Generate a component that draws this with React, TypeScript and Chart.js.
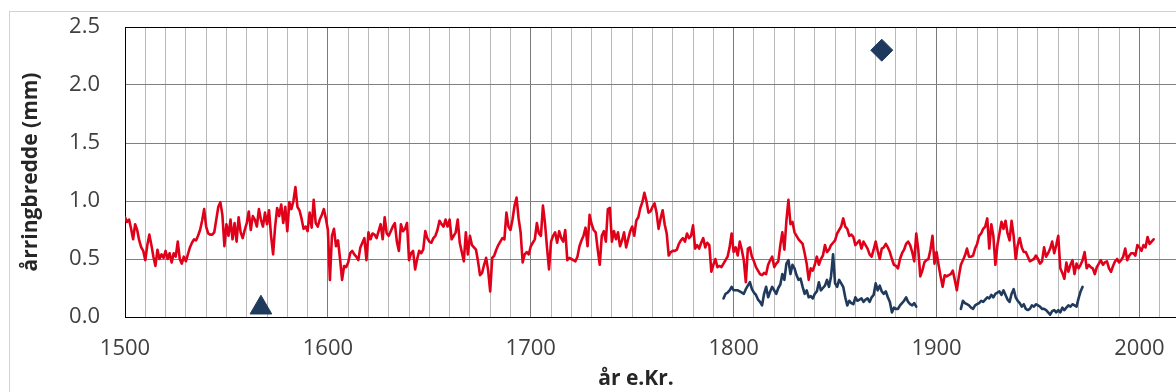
import { useEffect, useRef } from "react";
import { Chart, registerables } from "chart.js";

Chart.register(...registerables);

// Ring-width series (mm per year), one array per century
const redStart = 1500;
const red1500s = [
  0.86, 0.82, 0.84, 0.76, 0.67, 0.8, 0.75, 0.66, 0.6, 0.57,
  0.49, 0.62, 0.71, 0.62, 0.52, 0.44, 0.58, 0.5, 0.54, 0.51,
  0.57, 0.5, 0.55, 0.47, 0.55, 0.52, 0.65, 0.5, 0.46, 0.52,
  0.48, 0.54, 0.6, 0.64, 0.67, 0.66, 0.7, 0.75, 0.83, 0.93,
  0.78, 0.72, 0.71, 0.71, 0.73, 0.84, 0.95, 0.99, 0.88, 0.61,
  0.8, 0.7, 0.84, 0.67, 0.81, 0.65, 0.86, 0.73, 0.68, 0.75,
  0.81, 0.91, 0.75, 0.87, 0.84, 0.78, 0.93, 0.84, 0.78, 0.9,
  0.8, 0.92, 0.7, 0.54, 0.78, 0.94, 0.87, 0.97, 0.81, 0.95,
  0.74, 0.99, 0.93, 1.0, 1.12, 0.95, 0.92, 0.85, 0.76, 0.78,
  0.74, 0.9, 0.77, 1.01, 0.81, 0.78, 0.84, 0.88, 0.93, 0.85,
];
const red1600s = [
  0.75, 0.32, 0.7, 0.76, 0.61, 0.66, 0.5, 0.32, 0.44, 0.43,
  0.47, 0.55, 0.57, 0.54, 0.52, 0.49, 0.6, 0.64, 0.68, 0.49,
  0.73, 0.67, 0.72, 0.71, 0.68, 0.74, 0.8, 0.67, 0.86, 0.72,
  0.7, 0.74, 0.78, 0.81, 0.65, 0.57, 0.8, 0.74, 0.76, 0.81,
  0.49, 0.55, 0.57, 0.41, 0.5, 0.57, 0.55, 0.58, 0.74, 0.68,
  0.65, 0.64, 0.68, 0.7, 0.75, 0.83, 0.8, 0.78, 0.84, 0.78,
  0.84, 0.67, 0.7, 0.73, 0.84, 0.64, 0.56, 0.48, 0.73, 0.54,
  0.7, 0.62, 0.6, 0.58, 0.48, 0.36, 0.38, 0.45, 0.51, 0.4,
  0.22, 0.51, 0.53, 0.58, 0.62, 0.65, 0.68, 0.67, 0.9, 0.78,
  0.75, 0.84, 0.96, 1.03, 0.85, 0.73, 0.47, 0.54, 0.56, 0.54,
];
const red1700s = [
  0.61, 0.64, 0.67, 0.81, 0.72, 0.7, 0.96, 0.81, 0.6, 0.41,
  0.65, 0.7, 0.73, 0.64, 0.74, 0.68, 0.65, 0.75, 0.49, 0.51,
  0.5, 0.49, 0.48, 0.52, 0.61, 0.66, 0.7, 0.77, 0.61, 0.88,
  0.8, 0.75, 0.73, 0.58, 0.45, 0.7, 0.74, 0.65, 0.93, 0.94,
  0.65, 0.74, 0.67, 0.73, 0.61, 0.66, 0.73, 0.6, 0.67, 0.74,
  0.78, 0.7, 0.83, 0.86, 0.94, 0.99, 1.07, 1.0, 0.9, 0.91,
  0.95, 0.98, 0.9, 0.76, 0.85, 0.92, 0.8, 0.72, 0.53, 0.56,
  0.57, 0.57, 0.58, 0.63, 0.66, 0.68, 0.65, 0.72, 0.68, 0.7,
  0.79, 0.59, 0.62, 0.59, 0.64, 0.68, 0.6, 0.64, 0.62, 0.39,
  0.45, 0.5, 0.43, 0.44, 0.43, 0.46, 0.49, 0.52, 0.6, 0.72,
];
const red1800s = [
  0.56, 0.6, 0.53, 0.65, 0.58, 0.49, 0.3, 0.59, 0.6, 0.52,
  0.48, 0.43, 0.4, 0.37, 0.36, 0.38, 0.37, 0.45, 0.49, 0.52,
  0.43, 0.46, 0.48, 0.62, 0.73, 0.58, 0.83, 1.01, 0.8, 0.82,
  0.73, 0.7, 0.67, 0.65, 0.63, 0.55, 0.46, 0.32, 0.42, 0.4,
  0.45, 0.52, 0.45, 0.5, 0.53, 0.62, 0.56, 0.58, 0.62, 0.64,
  0.66, 0.72, 0.75, 0.78, 0.85, 0.78, 0.76, 0.7, 0.71, 0.69,
  0.62, 0.64, 0.66, 0.59, 0.65, 0.62, 0.59, 0.54, 0.52, 0.58,
  0.65, 0.57, 0.5, 0.59, 0.6, 0.63, 0.6, 0.56, 0.5, 0.45,
  0.44, 0.42, 0.5, 0.55, 0.58, 0.63, 0.65, 0.62, 0.56, 0.48,
  0.72, 0.58, 0.35, 0.4, 0.47, 0.49, 0.5, 0.58, 0.7, 0.46,
];
const red1900s = [
  0.56, 0.45, 0.35, 0.26, 0.36, 0.35, 0.36, 0.37, 0.4, 0.32,
  0.23, 0.35, 0.45, 0.49, 0.53, 0.59, 0.52, 0.52, 0.53, 0.59,
  0.63, 0.7, 0.72, 0.76, 0.78, 0.85, 0.59, 0.8, 0.7, 0.45,
  0.62, 0.72, 0.82, 0.76, 0.83, 0.72, 0.66, 0.83, 0.7, 0.5,
  0.62, 0.68, 0.6, 0.56, 0.56, 0.52, 0.48, 0.49, 0.5, 0.53,
  0.5, 0.46, 0.48, 0.6, 0.52, 0.55, 0.59, 0.65, 0.55, 0.62,
  0.7, 0.42, 0.38, 0.33, 0.47, 0.39, 0.45, 0.49, 0.37, 0.46,
  0.42, 0.45, 0.49, 0.56, 0.42, 0.45, 0.43, 0.42, 0.37, 0.43,
  0.46, 0.49, 0.45, 0.47, 0.48, 0.42, 0.39, 0.44, 0.48, 0.5,
  0.47, 0.49, 0.52, 0.59, 0.49, 0.53, 0.55, 0.55, 0.53, 0.62,
  0.6, 0.57, 0.62, 0.6, 0.69, 0.63, 0.65, 0.67,
];

// Shorter dark series
const blueAStart = 1795;
const blueA = [
  0.16, 0.2, 0.21, 0.23, 0.26,
  0.23, 0.23, 0.23, 0.22, 0.21, 0.2, 0.24, 0.27, 0.3, 0.24,
  0.21, 0.19, 0.15, 0.13, 0.1, 0.2, 0.26, 0.17, 0.22, 0.26,
  0.23, 0.2, 0.25, 0.28, 0.37, 0.32, 0.46, 0.49, 0.37, 0.45,
  0.42, 0.36, 0.32, 0.33, 0.26, 0.2, 0.23, 0.17, 0.18, 0.16,
  0.2, 0.22, 0.3, 0.23, 0.25, 0.27, 0.32, 0.26, 0.35, 0.54,
  0.29, 0.26, 0.32, 0.29, 0.26, 0.17, 0.1, 0.14, 0.12, 0.11,
  0.17, 0.14, 0.15, 0.16, 0.13, 0.15, 0.16, 0.13, 0.17, 0.19,
  0.29, 0.23, 0.27, 0.22, 0.2, 0.22, 0.17, 0.13, 0.04, 0.08,
  0.07, 0.07, 0.1, 0.12, 0.14, 0.17, 0.13, 0.11, 0.1, 0.12,
  0.09,
];
const blueBStart = 1912;
const blueB = [
  0.07, 0.14, 0.12, 0.11, 0.1, 0.08, 0.07, 0.1,
  0.11, 0.12, 0.14, 0.13, 0.15, 0.17, 0.16, 0.19, 0.17, 0.2,
  0.21, 0.22, 0.19, 0.23, 0.19, 0.15, 0.13, 0.2, 0.24, 0.17,
  0.14, 0.12, 0.09, 0.11, 0.07, 0.06, 0.07, 0.1, 0.09, 0.11,
  0.1, 0.09, 0.07, 0.07, 0.06, 0.04, 0.02, 0.05, 0.06, 0.04,
  0.06, 0.04, 0.08, 0.06, 0.08, 0.1, 0.09, 0.11, 0.1, 0.09,
  0.16, 0.22, 0.26,
];

// Single dated samples
const triangleYear = 1567;
const triangleValue = 0.08;
const diamondYear = 1873;
const diamondValue = 2.3;

const yTicks = [0, 0.5, 1.0, 1.5, 2.0, 2.5];

const RED = "#e0001a";
const NAVY = "#1f3a5c";
const FONT = '"Open Sans", "Noto Sans", sans-serif';

const toPoints = (start: number, values: number[]) =>
  values.map((v, i) => ({ x: start + i, y: v }));

const redValues = [...red1500s, ...red1600s, ...red1700s, ...red1800s, ...red1900s];

// Light outer frame around the whole chart
const framePlugin = {
  id: "outerFrame",
  beforeDraw(chart: any) {
    const { ctx } = chart;
    ctx.save();
    ctx.fillStyle = "#ffffff";
    ctx.fillRect(0, 0, chart.width, chart.height);
    ctx.strokeStyle = "#d2d2d2";
    ctx.lineWidth = 1;
    ctx.strokeRect(9.5, 11.5, chart.width + 20, chart.height + 20);
    ctx.restore();
  },
};

// X axis caption
const xTitlePlugin = {
  id: "xCaption",
  afterDraw(chart: any) {
    const { ctx } = chart;
    ctx.save();
    ctx.font = `bold 21px ${FONT}`;
    ctx.fillStyle = "#262626";
    ctx.textAlign = "center";
    ctx.textBaseline = "alphabetic";
    ctx.fillText("år e.Kr.", 636, 385);
    ctx.restore();
  },
};

export default function App() {
  const ref = useRef<HTMLCanvasElement>(null);

  useEffect(() => {
    const canvas = ref.current;
    if (!canvas) return;
    const lineStyle = {
      borderWidth: 2.6,
      pointRadius: 0,
      tension: 0,
      borderJoinStyle: "round",
      borderCapStyle: "round",
    };
    const chart = new Chart(canvas, {
      type: "line",
      data: {
        datasets: [
          { data: toPoints(redStart, redValues), borderColor: RED, ...lineStyle },
          { data: toPoints(blueAStart, blueA), borderColor: NAVY, ...lineStyle },
          { data: toPoints(blueBStart, blueB), borderColor: NAVY, ...lineStyle },
          {
            data: [{ x: triangleYear, y: triangleValue }],
            showLine: false,
            pointStyle: "triangle",
            pointRadius: 12.5,
            backgroundColor: NAVY,
            borderColor: NAVY,
            borderWidth: 1,
            clip: false,
          },
          {
            data: [{ x: diamondYear, y: diamondValue }],
            showLine: false,
            pointStyle: "rectRot",
            pointRadius: 11,
            backgroundColor: NAVY,
            borderColor: NAVY,
            borderWidth: 1,
            clip: false,
          },
        ],
      } as any,
      options: {
        responsive: false,
        animation: false,
        events: [],
        layout: {
          autoPadding: false,
          padding: { left: 0, top: 27, right: 20, bottom: 0 },
        },
        plugins: {
          legend: { display: false },
          tooltip: { enabled: false },
        },
        scales: {
          x: {
            type: "linear",
            min: 1500,
            max: 2020,
            afterFit: (scale: any) => {
              scale.height = 75;
            },
            border: { color: "#000000", width: 1 },
            grid: {
              drawTicks: false,
              lineWidth: 1,
              color: (c: any) =>
                c.tick && c.tick.value % 100 === 0 ? "#7a7a7a" : "#b8b8b8",
            },
            ticks: {
              stepSize: 10,
              autoSkip: false,
              maxRotation: 0,
              minRotation: 0,
              padding: 19,
              color: "#404040",
              font: { family: FONT, size: 22 },
              callback: (v: any) => (Number(v) % 100 === 0 ? String(v) : ""),
            },
          },
          y: {
            min: yTicks[0],
            max: yTicks[yTicks.length - 1],
            afterFit: (scale: any) => {
              scale.width = 125;
            },
            afterBuildTicks: (scale: any) => {
              scale.ticks = yTicks.map((v) => ({ value: v }));
            },
            border: { color: "#000000", width: 1 },
            grid: {
              drawTicks: true,
              tickLength: 25,
              tickColor: "rgba(0,0,0,0)",
              lineWidth: 1,
              color: (c: any) =>
                c.tick && c.tick.value === 2.5 ? "#000000" : "#808080",
            },
            ticks: {
              padding: 0,
              color: "#404040",
              font: { family: FONT, size: 22 },
              callback: (v: any) => Number(v).toFixed(1),
            },
            title: {
              display: true,
              text: "årringbredde (mm)",
              color: "#262626",
              font: { family: FONT, size: 21, weight: "bold" },
              padding: { top: 18, bottom: 0 },
            },
          },
        },
      } as any,
      plugins: [framePlugin, xTitlePlugin],
    });
    return () => chart.destroy();
  }, []);

  return (
    <div
      style={{
        position: "fixed",
        left: 0,
        top: 0,
        width: 1176,
        height: 392,
        overflow: "hidden",
        background: "#ffffff",
      }}
    >
      <canvas ref={ref} width={1200} height={392} style={{ display: "block" }} />
    </div>
  );
}
